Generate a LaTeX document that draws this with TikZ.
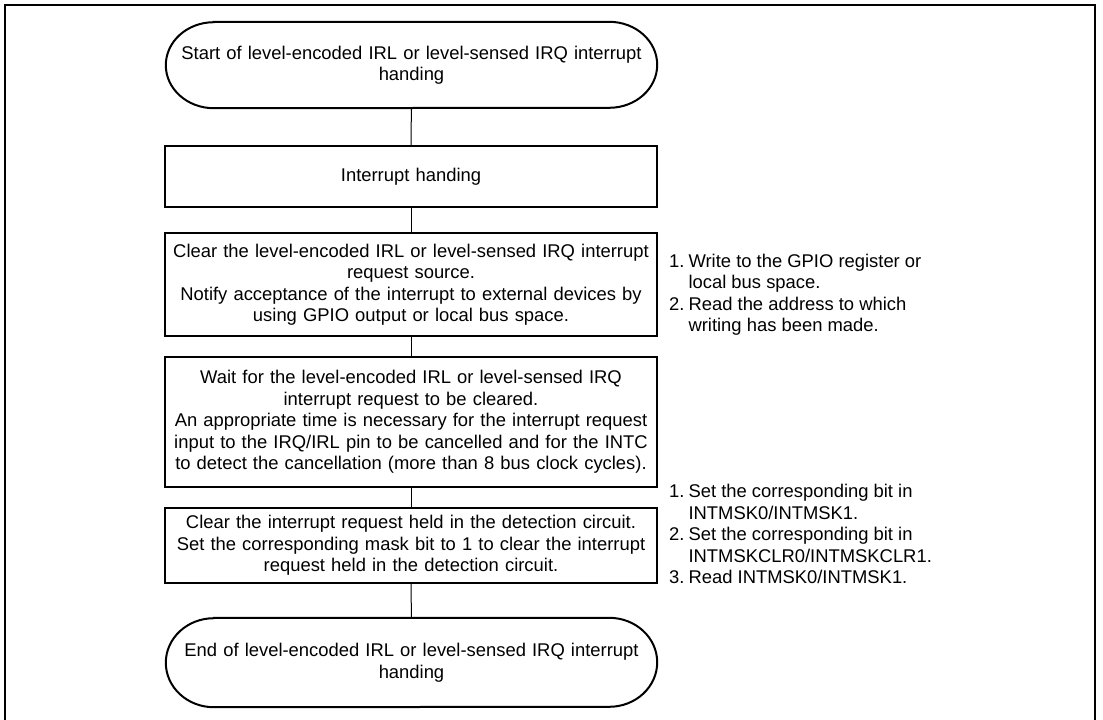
\documentclass[tikz,border=0pt]{standalone}
\usepackage{fontspec}
\setmainfont{Liberation Sans}
\usetikzlibrary{calc}
\newcommand\diagfont{\fontsize{18.4pt}{21.5pt}\selectfont}
\newcommand\itm[1]{#1.\hspace{4pt}}
\newcommand\ind{\hphantom{\itm{1}}}
\tikzset{
  boxnode/.style={draw, line width=2.3pt, minimum width=492pt, text width=484pt,
    align=center, inner sep=0pt, font=\diagfont},
  termnode/.style={minimum width=491pt, text width=470pt, align=center,
    inner sep=0pt, font=\diagfont},
  termline/.style={line width=2pt},
  conn/.style={line width=1pt},
  notenode/.style={anchor=west, align=left, inner sep=0pt, font=\diagfont},
  frameline/.style={line width=2.8pt}
}
\newcommand\termoutline[1]{%
  \draw[termline] ([xshift=48pt]#1.north west) -- ([xshift=-48pt]#1.north east)
    arc[start angle=90, end angle=-90, x radius=48pt, y radius=\termry]
    -- ([xshift=48pt]#1.south west)
    arc[start angle=270, end angle=90, x radius=48pt, y radius=\termry] -- cycle;}
\begin{document}
\begin{tikzpicture}[x=1pt, y=-1pt]
\useasboundingbox (0,0) rectangle (1103,720);
\clip (0,0) rectangle (1103,720);
\draw[frameline] (5,5) rectangle (1095,740);

\node[termnode, minimum height=86pt] (start) at (411.5,65)
  {Start of level-encoded IRL or level-sensed IRQ interrupt\\handing};
\def\termry{43pt}
\termoutline{start}

\node[boxnode, minimum height=61pt] (b1) at (411,176.5) {Interrupt handing};

\node[boxnode, minimum height=103pt] (b2) at (411,284.5)
  {Clear the level-encoded IRL or level-sensed IRQ interrupt\\request source.\\
   Notify acceptance of the interrupt to external devices by\\using GPIO output or local bus space.};

\node[boxnode, minimum height=130pt] (b3) at (411,422)
  {Wait for the level-encoded IRL or level-sensed IRQ\\interrupt request to be cleared.\\
   An appropriate time is necessary for the interrupt request\\
   input to the IRQ/IRL pin to be cancelled and for the INTC\\
   to detect the cancellation (more than 8 bus clock cycles).};

\node[boxnode, minimum height=75pt] (b4) at (411,545.5)
  {Clear the interrupt request held in the detection circuit.\\
   Set the corresponding mask bit to 1 to clear the interrupt\\
   request held in the detection circuit.};

\node[termnode, minimum height=89pt] (end) at (411.5,662.5)
  {End of level-encoded IRL or level-sensed IRQ interrupt\\handing};
\def\termry{44.5pt}
\termoutline{end}

\draw[conn] (start) -- (b1);
\draw[conn] (b1) -- (b2);
\draw[conn] (b2) -- (b3);
\draw[conn] (b3) -- (b4);
\draw[conn] (b4) -- (end);

\node[notenode] (n1) at (669,294.5)
  {\itm{1}Write to the GPIO register or\\\ind local bus space.\\
   \itm{2}Read the address to which\\\ind writing has been made.};
\node[notenode] (n2) at (669,534)
  {\itm{1}Set the corresponding bit in\\\ind INTMSK0/INTMSK1.\\
   \itm{2}Set the corresponding bit in\\\ind INTMSKCLR0/INTMSKCLR1.\\
   \itm{3}Read INTMSK0/INTMSK1.};
\end{tikzpicture}
\end{document}
